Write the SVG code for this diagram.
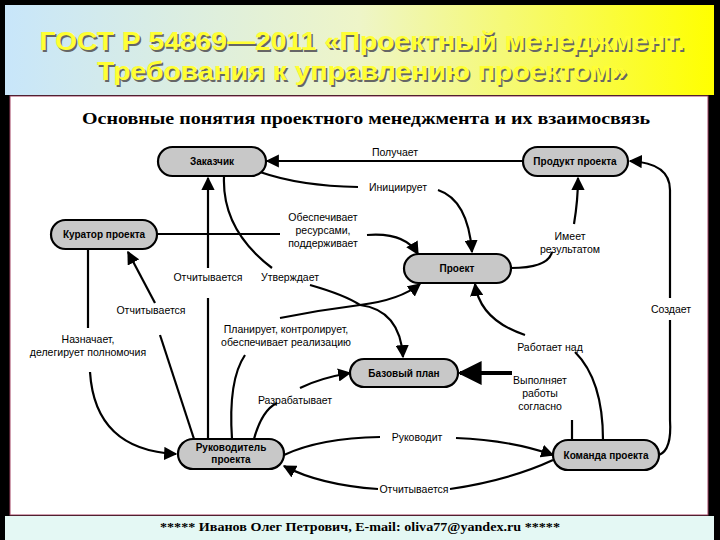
<svg xmlns="http://www.w3.org/2000/svg" width="720" height="540" viewBox="0 0 720 540">
<defs>
<linearGradient id="tg" x1="0" y1="0" x2="1" y2="0"><stop offset="0" stop-color="#c8e6fa"/><stop offset="0.5" stop-color="#eef5c8"/><stop offset="1" stop-color="#ffff00"/></linearGradient>
<marker id="ar" viewBox="0 0 10 10" refX="9" refY="5" markerWidth="6" markerHeight="6" orient="auto-start-reverse"><path d="M0,0 L10,5 L0,10 z" fill="#000"/></marker>
<style>
.n rect{fill:#c8c8c8;stroke:#000;stroke-width:2.2}
.n text{font-family:"Liberation Sans",Arial,sans-serif;font-size:10px;font-weight:bold;text-anchor:middle}
.c path{fill:none;stroke:#000;stroke-width:2.2}
.a{marker-end:url(#ar)}
.l{font-family:"Liberation Sans",Arial,sans-serif;font-size:10.5px;text-anchor:middle}
.t{font-family:"Liberation Sans",Arial,sans-serif;font-size:26px;font-weight:bold;text-anchor:middle;fill:#ffff33}
</style>
</defs>
<rect x="0" y="0" width="720" height="540" fill="#000"/>
<rect x="5" y="5" width="709" height="90" fill="url(#tg)"/>
<g>
<text class="t" x="362" y="50" dx="1.5" dy="1.5" style="fill:#666" textLength="645" lengthAdjust="spacingAndGlyphs">ГОСТ Р 54869—2011 «Проектный менеджмент.</text>
<text class="t" x="362" y="80" dx="1.5" dy="1.5" style="fill:#666" textLength="530" lengthAdjust="spacingAndGlyphs">Требования к управлению проектом»</text>
<text class="t" x="362" y="50" textLength="645" lengthAdjust="spacingAndGlyphs">ГОСТ Р 54869—2011 «Проектный менеджмент.</text>
<text class="t" x="362" y="80" textLength="530" lengthAdjust="spacingAndGlyphs">Требования к управлению проектом»</text>
</g>
<rect x="10" y="96" width="698" height="419" fill="#fff" stroke="#a04060" stroke-width="1"/>
<text x="366" y="124" font-family="Liberation Serif,serif" font-size="17" font-weight="bold" text-anchor="middle" textLength="568" lengthAdjust="spacingAndGlyphs">Основные понятия проектного менеджмента и их взаимосвязь</text>
<rect x="5" y="516" width="709" height="24" fill="#e4f8f4"/>
<text x="360" y="531" font-family="Liberation Serif,serif" font-size="13" font-weight="bold" text-anchor="middle" textLength="400" lengthAdjust="spacingAndGlyphs">*****  Иванов Олег Петрович, E-mail: oliva77@yandex.ru *****</text>

<g class="c">
<path class="a" d="M523,161 L267,161"/>
<path d="M260,172 Q300,186 358,187"/>
<path class="a" d="M438,190 Q468,200 472,252"/>
<path d="M157,234 L280,234"/>
<path class="a" d="M367,235 Q405,232 418,254"/>
<path d="M511,268 Q548,268 552,252"/>
<path class="a" d="M574,224 Q578,200 578,178"/>
<path d="M208,439 L208,298"/>
<path class="a" d="M208,268 L208,178"/>
<path d="M224,177 Q222,230 272,268"/>
<path d="M310,285 Q345,295 360,305"/>
<path class="a" d="M360,305 Q400,310 403,357"/>
<path d="M280,318 Q320,310 360,305"/>
<path class="a" d="M360,305 Q400,300 420,284"/>
<path d="M194,439 L160,335"/>
<path class="a" d="M155,303 L128,252"/>
<path d="M88,249 L88,328"/>
<path class="a" d="M90,372 Q95,450 176,454"/>
<path d="M232,439 Q228,380 245,355"/>
<path d="M254,439 Q262,410 277,403"/>
<path class="a" d="M300,388 Q320,378 350,373"/>
<path d="M572,440 L572,420"/>
<path class="a" d="M512,373 L460,373" style="stroke-width:4"/>
<path d="M603,440 Q603,380 575,352"/>
<path class="a" d="M525,335 Q480,320 475,284"/>
<path d="M659,455 Q672,450 670,420 L670,320"/>
<path class="a" d="M670,298 L670,190 Q670,163 630,161"/>
<path d="M284,455 Q320,438 380,437"/>
<path class="a" d="M456,438 Q510,440 553,455"/>
<path d="M553,460 Q510,480 450,489"/>
<path class="a" d="M378,489 Q320,485 284,466"/>
</g>
<g>
<text class="l" x="395" y="156">Получает</text>
<text class="l" x="398" y="191">Инициирует</text>
<text class="l" x="323" y="221">Обеспечивает</text>
<text class="l" x="323" y="234">ресурсами,</text>
<text class="l" x="323" y="247">поддерживает</text>
<text class="l" x="570" y="240">Имеет</text>
<text class="l" x="570" y="253">результатом</text>
<text class="l" x="208" y="281">Отчитывается</text>
<text class="l" x="290" y="281">Утверждает</text>
<text class="l" x="151" y="314">Отчитывается</text>
<text class="l" x="286" y="333">Планирует, контролирует,</text>
<text class="l" x="286" y="346">обеспечивает реализацию</text>
<text class="l" x="88" y="343">Назначает,</text>
<text class="l" x="88" y="356">делегирует полномочия</text>
<text class="l" x="295" y="404">Разрабатывает</text>
<text class="l" x="550" y="351">Работает над</text>
<text class="l" x="540" y="384">Выполняет</text>
<text class="l" x="540" y="397">работы</text>
<text class="l" x="540" y="410">согласно</text>
<text class="l" x="671" y="313">Создает</text>
<text class="l" x="417" y="441">Руководит</text>
<text class="l" x="414" y="493">Отчитывается</text>
</g>
<g id="n-zak" class="n"><rect x="158" y="147" width="108" height="29" rx="14.5"/><text x="212" y="165">Заказчик</text></g>
<g id="n-prod" class="n"><rect x="523" y="147" width="105" height="29" rx="14.5"/><text x="575" y="165">Продукт проекта</text></g>
<g id="n-kur" class="n"><rect x="51" y="220" width="106" height="29" rx="14.5"/><text x="104" y="238">Куратор проекта</text></g>
<g id="n-proj" class="n"><rect x="404" y="254" width="107" height="29" rx="14.5"/><text x="457" y="272">Проект</text></g>
<g id="n-plan" class="n"><rect x="350" y="359" width="108" height="28" rx="14"/><text x="404" y="377">Базовый план</text></g>
<g id="n-ruk" class="n"><rect x="178" y="439" width="106" height="30" rx="15"/><text x="231" y="451">Руководитель</text><text x="231" y="463">проекта</text></g>
<g id="n-kom" class="n"><rect x="553" y="440" width="106" height="30" rx="15"/><text x="606" y="459">Команда проекта</text></g>
</svg>
